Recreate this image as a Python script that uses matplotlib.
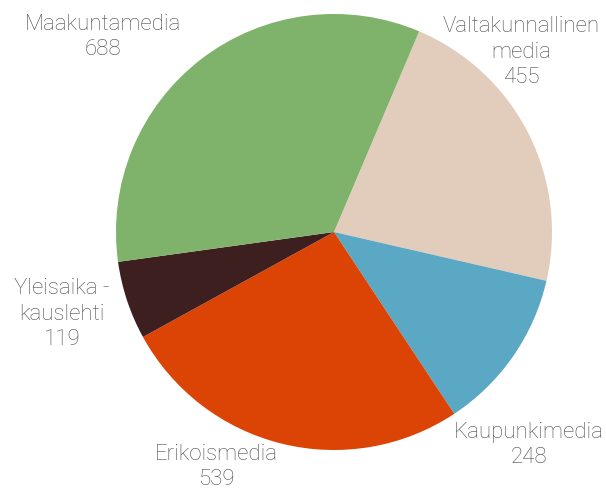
import matplotlib.pyplot as plt

labels = ['Valtakunnallinen\nmedia', 'Kaupunkimedia', 'Erikoismedia', 'Yleisaika -\nkauslehti', 'Maakuntamedia']
values = [455, 248, 539, 119, 688]
colors = ['#e2cdbd', '#5ba8c4', '#dc4405', '#3d1f20', '#7fb26a']

# label centres, in pixels of the 606x491 canvas (y up)
label_pos = [(521, 439), (529, 46), (216, 24), (62, 177), (103, 454)]

fig = plt.figure(figsize=(6.06, 4.91), dpi=100)
ax = fig.add_axes([0, 0, 1, 1])
ax.pie(values, colors=colors, startangle=67, counterclock=False,
       center=(334, 259), radius=218, frame=True)
ax.set_xlim(0, 606)
ax.set_ylim(0, 491)
ax.axis('off')

for lab, val, (x, y) in zip(labels, values, label_pos):
    ax.text(x, y, '{0}\n{1}'.format(lab, val), ha='center', va='center',
            fontsize=16, family='Roboto', fontweight='light', color='#4d4d4d',
            linespacing=1.3)

fig.savefig('out.png', dpi=100)
